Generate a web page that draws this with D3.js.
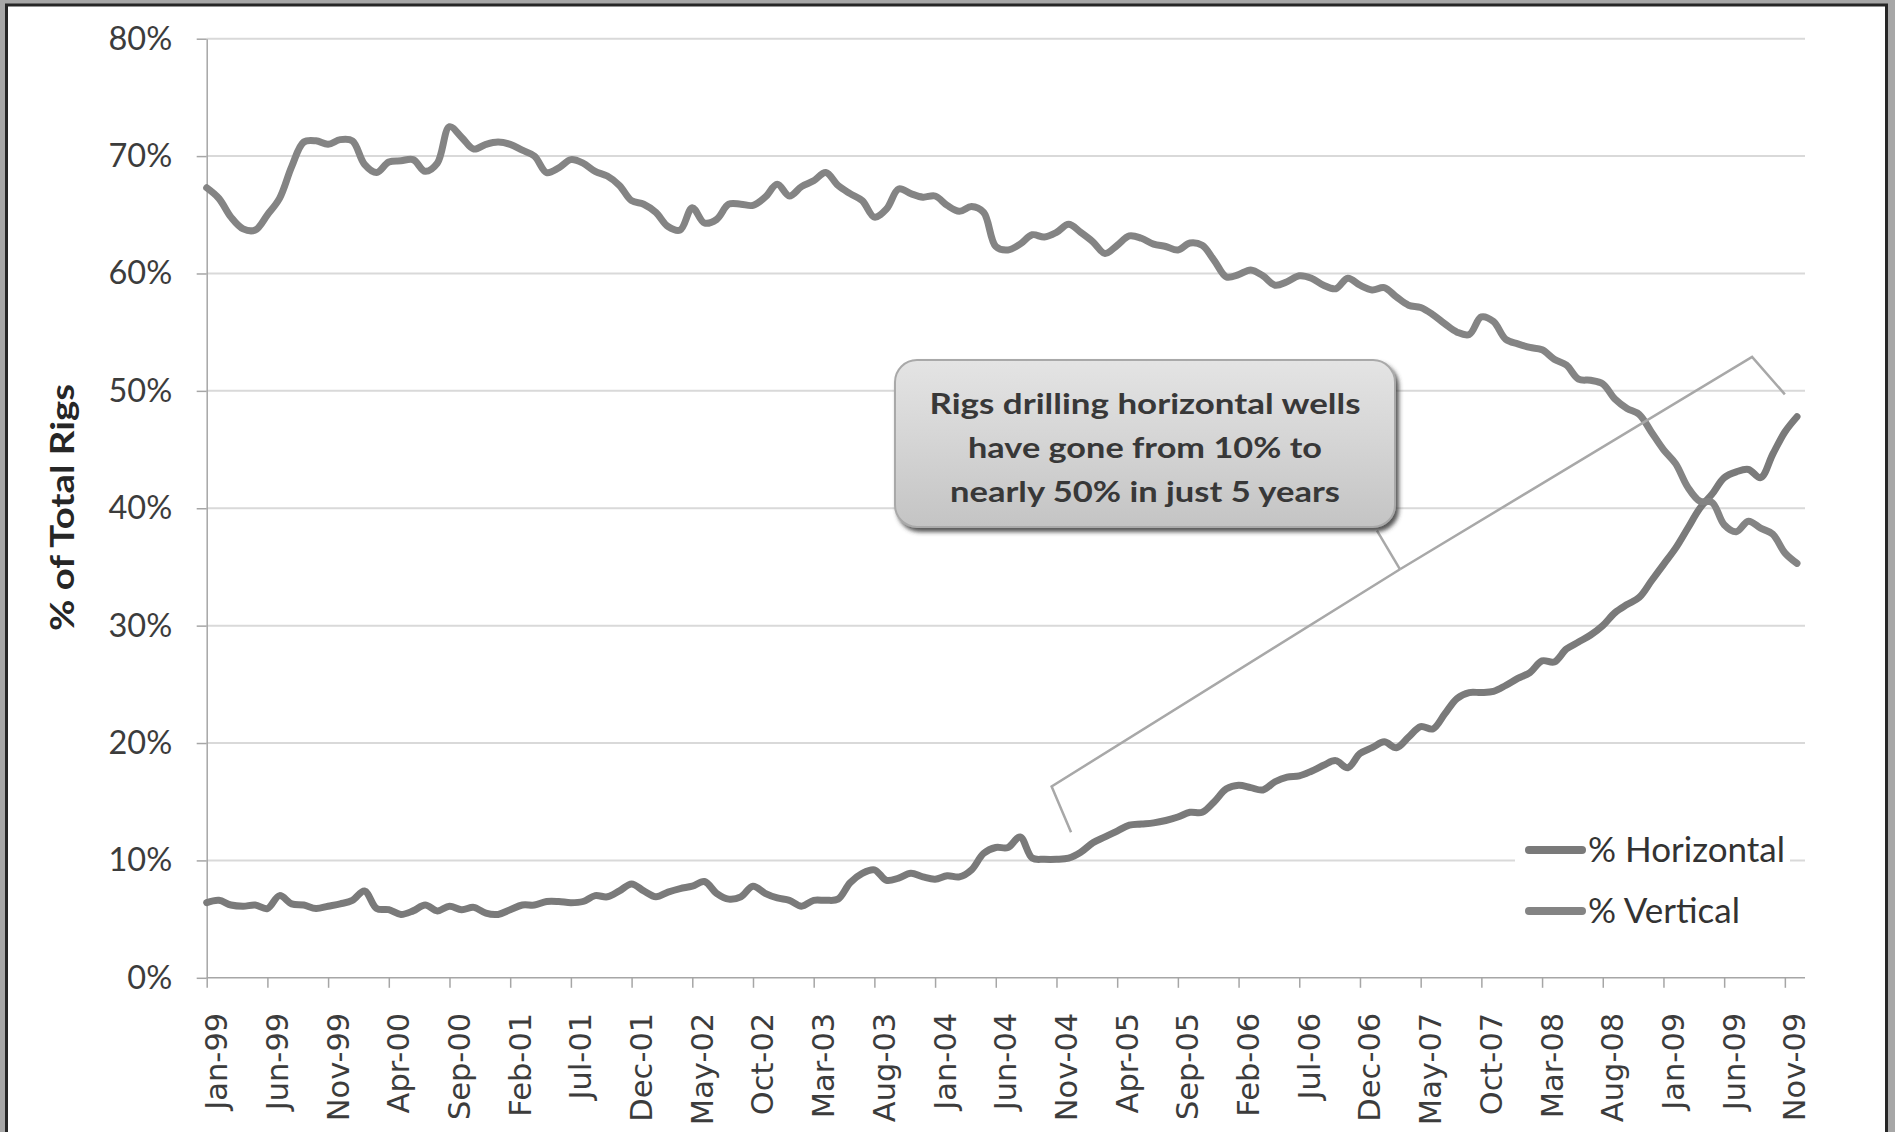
<!DOCTYPE html>
<html>
<head>
<meta charset="utf-8">
<script src="https://cdn.jsdelivr.net/npm/d3@7"></script>
<style>
  html, body { margin: 0; padding: 0; background: #a7a7a7; }
  svg { display: block; }
</style>
</head>
<body>
<svg id="chart" width="1895" height="1132"></svg>
<script>
// Share of active rigs by well type, monthly Jan-1999 .. Dec-2009 (percent)
const horizontalPct = [
  6.4, 6.6, 6.2, 6.1, 6.2, 5.9, 7.0, 6.3, 6.2, 5.9,
  6.1, 6.3, 6.6, 7.4, 5.9, 5.8, 5.4, 5.7, 6.2, 5.7,
  6.1, 5.8, 6.0, 5.5, 5.4, 5.8, 6.2, 6.2, 6.5, 6.5,
  6.4, 6.5, 7.0, 6.9, 7.4, 8.0, 7.4, 6.9, 7.3, 7.6,
  7.8, 8.2, 7.2, 6.7, 6.9, 7.8, 7.2, 6.8, 6.6, 6.1,
  6.6, 6.6, 6.7, 8.1, 8.9, 9.2, 8.3, 8.5, 8.9, 8.6,
  8.4, 8.7, 8.6, 9.2, 10.6, 11.1, 11.1, 12.0, 10.2, 10.1,
  10.1, 10.2, 10.7, 11.5, 12.0, 12.5, 13.0, 13.1, 13.2, 13.4,
  13.7, 14.1, 14.1, 15.0, 16.1, 16.4, 16.2, 16.0, 16.7, 17.1,
  17.2, 17.6, 18.1, 18.5, 17.9, 19.1, 19.6, 20.1, 19.6, 20.5,
  21.4, 21.2, 22.5, 23.8, 24.3, 24.3, 24.4, 24.9, 25.5, 26.0,
  27.0, 26.9, 28.0, 28.6, 29.2, 30.0, 31.1, 31.8, 32.4, 33.8,
  35.2, 36.6, 38.3, 40.0, 41.2, 42.6, 43.1, 43.3, 42.6, 44.6,
  46.5, 47.8
];
const verticalPct = [
  67.3, 66.4, 64.8, 63.8, 63.7, 65.0, 66.4, 69.1, 71.2, 71.3,
  71.0, 71.4, 71.3, 69.3, 68.6, 69.5, 69.6, 69.7, 68.7, 69.4,
  72.5, 71.6, 70.6, 71.0, 71.2, 71.0, 70.5, 70.0, 68.6, 69.0,
  69.7, 69.4, 68.7, 68.3, 67.5, 66.2, 65.9, 65.2, 64.0, 63.7,
  65.6, 64.3, 64.6, 65.9, 65.9, 65.8, 66.5, 67.6, 66.6, 67.4,
  67.9, 68.6, 67.5, 66.8, 66.2, 64.8, 65.5, 67.2, 66.8, 66.5,
  66.6, 65.8, 65.3, 65.7, 65.2, 62.3, 62.0, 62.5, 63.3, 63.1,
  63.5, 64.2, 63.5, 62.7, 61.7, 62.4, 63.2, 63.0, 62.5, 62.3,
  62.0, 62.6, 62.4, 61.1, 59.7, 59.9, 60.3, 59.8, 59.0, 59.3,
  59.8, 59.6, 59.0, 58.7, 59.6, 59.0, 58.6, 58.8, 58.0, 57.3,
  57.1, 56.5, 55.7, 55.0, 54.8, 56.3, 55.9, 54.4, 54.0, 53.7,
  53.5, 52.7, 52.2, 51.0, 50.9, 50.6, 49.3, 48.5, 48.0, 46.5,
  45.0, 43.8, 41.8, 40.6, 40.5, 38.6, 38.0, 38.9, 38.3, 37.8,
  36.2, 35.3
];

const tickLabels = [
  "Jan-99", "Jun-99", "Nov-99", "Apr-00", "Sep-00", "Feb-01", "Jul-01",
  "Dec-01", "May-02", "Oct-02", "Mar-03", "Aug-03", "Jan-04", "Jun-04",
  "Nov-04", "Apr-05", "Sep-05", "Feb-06", "Jul-06", "Dec-06", "May-07",
  "Oct-07", "Mar-08", "Aug-08", "Jan-09", "Jun-09", "Nov-09"
];
const yTickValues = [0, 10, 20, 30, 40, 50, 60, 70, 80];

const seriesNames = ["% Horizontal", "% Vertical"];
const seriesColors = ["#7a7a7a", "#848484"];

const calloutText = [
  "Rigs drilling horizontal wells",
  "have gone from 10% to",
  "nearly 50% in just 5 years"
];
// bracket vertices in data space: [month index, percent]
const bracketLeft = [[71.2, 12.4], [69.6, 16.3], [98.3, 34.8]];
const bracketTip = [[98.3, 34.8], [96.4, 38.1]];
const bracketRight = [[98.3, 34.8], [127.3, 52.9], [130.0, 49.7]];

// ---- layout ----
const svg = d3.select("#chart");
const W = 1895, H = 1132;
const plot = { left: 206.7, right: 1805, top: 38.7, bottom: 977.8, lastX: 1797 };

const fmtMonth = d3.timeFormat("%b-%y");
const months = d3.timeMonth.range(new Date(1999, 0, 1), new Date(2010, 0, 1)).map(fmtMonth);

const x = d3.scalePoint().domain(months).range([plot.left, plot.lastX]);
const y = d3.scaleLinear().domain([0, 80]).range([plot.bottom, plot.top]);
const xi = d3.scaleLinear().domain([0, months.length - 1]).range([plot.left, plot.lastX]);

// frame
svg.append("rect")
  .attr("x", 6.5).attr("y", 5).attr("width", 1880).attr("height", 1150)
  .attr("fill", "#ffffff").attr("stroke", "#262626").attr("stroke-width", 3);

// gridlines
svg.append("g").selectAll("line").data(yTickValues.filter(v => v > 0)).join("line")
  .attr("x1", plot.left).attr("x2", plot.right)
  .attr("y1", d => y(d)).attr("y2", d => y(d))
  .attr("stroke", "#d9d9d9").attr("stroke-width", 2);

// y axis
const yAxis = svg.append("g")
  .attr("transform", `translate(${plot.left},0)`)
  .call(d3.axisLeft(y).tickValues(yTickValues).tickSize(10).tickSizeOuter(0)
        .tickPadding(24.5).tickFormat(d => d + "%"));
yAxis.select(".domain").attr("stroke", "#a6a6a6").attr("stroke-width", 1.5);
yAxis.selectAll(".tick line").attr("stroke", "#a6a6a6").attr("stroke-width", 1.5);
yAxis.selectAll("text")
  .attr("font-family", "Lato, 'Open Sans', sans-serif")
  .attr("font-size", 32.5).attr("fill", "#3c3c3c");

// x axis
const xAxis = svg.append("g")
  .attr("transform", `translate(0,${plot.bottom})`)
  .call(d3.axisBottom(x).tickValues(tickLabels).tickSize(10).tickSizeOuter(0));
xAxis.select(".domain").attr("stroke", "#a6a6a6").attr("stroke-width", 1.5)
  .attr("d", `M${plot.left},0H${plot.right}`);
xAxis.selectAll(".tick line").attr("stroke", "#a6a6a6").attr("stroke-width", 1.5);
xAxis.selectAll("text")
  .attr("x", 0).attr("y", 0).attr("dy", null)
  .attr("transform", "translate(20,35) rotate(-90)")
  .attr("text-anchor", "end")
  .attr("font-family", "'DejaVu Sans', sans-serif")
  .attr("font-size", 30.5).attr("fill", "#3c3c3c");

// y axis title
svg.append("text")
  .attr("transform", "translate(73.5,507.5) rotate(-90)")
  .attr("text-anchor", "middle")
  .attr("font-family", "Lato, 'Open Sans', sans-serif")
  .attr("font-weight", 700).attr("font-size", 33)
  .attr("fill", "#262626")
  .attr("textLength", 247).attr("lengthAdjust", "spacingAndGlyphs")
  .text("% of Total Rigs");

// data lines
const line = d3.line()
  .x((d, i) => x(months[i]))
  .y(d => y(d))
  .curve(d3.curveCatmullRom.alpha(0.5));

[horizontalPct, verticalPct].forEach((s, k) => {
  svg.append("path").datum(s)
    .attr("d", line)
    .attr("fill", "none")
    .attr("stroke", seriesColors[k])
    .attr("stroke-width", 7)
    .attr("stroke-linejoin", "round")
    .attr("stroke-linecap", "round");
});

// bracket callout
const bline = d3.line().x(d => xi(d[0])).y(d => y(d[1]));
[bracketLeft, bracketTip, bracketRight].forEach(pts => {
  svg.append("path").attr("d", bline(pts))
    .attr("fill", "none").attr("stroke", "#a8a8a8").attr("stroke-width", 2.5)
    .attr("stroke-linejoin", "miter");
});

// callout box
const defs = svg.append("defs");
const grad = defs.append("linearGradient").attr("id", "boxFill")
  .attr("x1", 0).attr("y1", 0).attr("x2", 0).attr("y2", 1);
grad.append("stop").attr("offset", "0%").attr("stop-color", "#e4e4e4");
grad.append("stop").attr("offset", "45%").attr("stop-color", "#d6d6d6");
grad.append("stop").attr("offset", "100%").attr("stop-color", "#c4c4c4");
const shadow = defs.append("filter").attr("id", "boxShadow")
  .attr("x", "-10%").attr("y", "-10%").attr("width", "130%").attr("height", "130%");
shadow.append("feDropShadow").attr("dx", 3).attr("dy", 4).attr("stdDeviation", 2)
  .attr("flood-color", "#3a3a3a").attr("flood-opacity", 0.85);

const box = { x: 895, y: 360, w: 500, h: 167 };
svg.append("rect")
  .attr("x", box.x).attr("y", box.y).attr("width", box.w).attr("height", box.h)
  .attr("rx", 22).attr("ry", 22)
  .attr("fill", "url(#boxFill)").attr("stroke", "#a9a9a9").attr("stroke-width", 2)
  .attr("filter", "url(#boxShadow)");

const calloutWidths = [431, 354, 390];
svg.append("g").selectAll("text").data(calloutText).join("text")
  .attr("x", box.x + box.w / 2)
  .attr("y", (d, i) => 413.5 + i * 44.3)
  .attr("text-anchor", "middle")
  .attr("font-family", "Lato, 'Open Sans', sans-serif")
  .attr("font-weight", 700).attr("font-size", 28)
  .attr("fill", "#383838")
  .attr("textLength", (d, i) => calloutWidths[i])
  .attr("lengthAdjust", "spacingAndGlyphs")
  .text(d => d);

// legend
const legend = svg.append("g");
legend.append("rect").attr("x", 1515).attr("y", 826).attr("width", 275).attr("height", 110)
  .attr("fill", "#ffffff");
const lg = legend.selectAll("g").data(seriesNames).join("g")
  .attr("transform", (d, i) => `translate(0,${i * 61})`);
lg.append("line")
  .attr("x1", 1529).attr("x2", 1582).attr("y1", 850).attr("y2", 850)
  .attr("stroke", (d, i) => seriesColors[i]).attr("stroke-width", 8)
  .attr("stroke-linecap", "round");
lg.append("text")
  .attr("x", 1588).attr("y", 862)
  .attr("font-family", "Lato, 'Open Sans', sans-serif")
  .attr("font-size", 35).attr("fill", "#333333")
  .text(d => d);
</script>
</body>
</html>
